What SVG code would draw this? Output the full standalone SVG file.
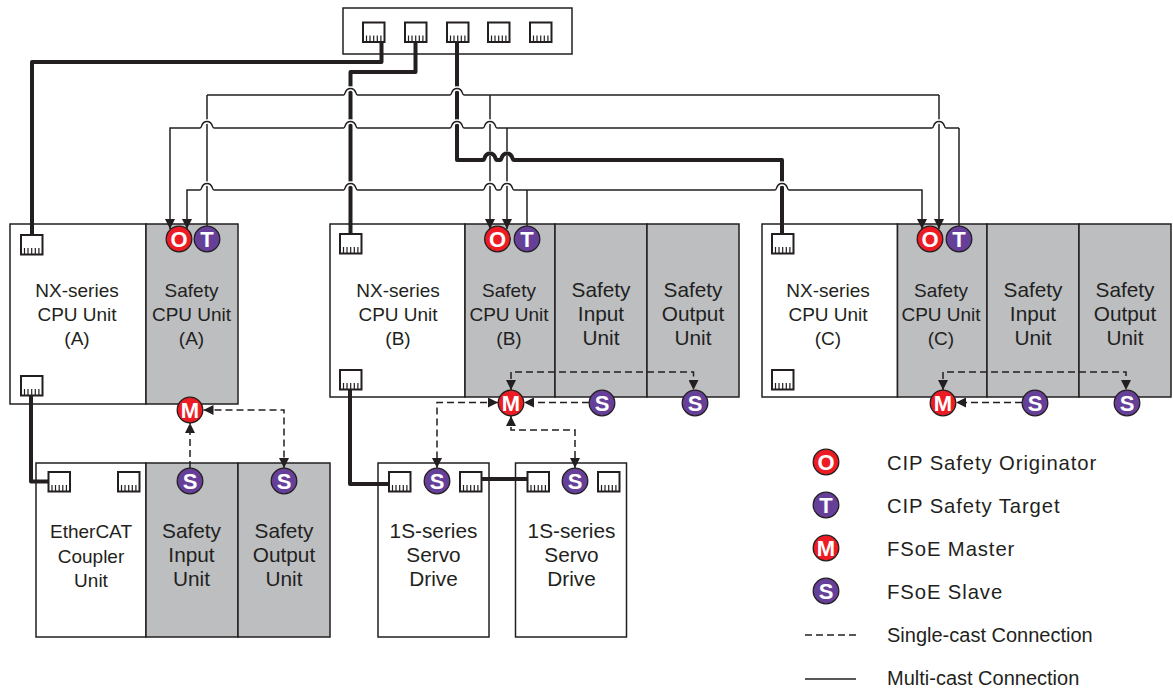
<svg xmlns="http://www.w3.org/2000/svg" xmlns:xlink="http://www.w3.org/1999/xlink" width="1173" height="690" viewBox="0 0 1173 690">
<style>
text{font-family:"Liberation Sans",Arial,sans-serif;fill:#231f20}
.t{font-size:19px;text-anchor:middle}
.w{font-size:20.800px;text-anchor:middle}
.l{font-size:20.300px;letter-spacing:.9px}
.c{font-size:20px}
.box{fill:#fff;stroke:#231f20;stroke-width:1.5}
.g{fill:#bcbec0;stroke:#231f20;stroke-width:1.5}
.port{fill:#fff;stroke:#231f20;stroke-width:2}
.teeth{fill:none;stroke:#231f20;stroke-width:1.2}
.thin{fill:none;stroke:#231f20;stroke-width:1.5}
.thick{fill:none;stroke:#231f20;stroke-width:4;stroke-linejoin:round}
.dash{fill:none;stroke:#231f20;stroke-width:1.5;stroke-dasharray:7 4}
.halo{fill:none;stroke:#fff;stroke-width:4.500}
.red{fill:#ed1c24;stroke:#231f20;stroke-width:1.3}
.pur{fill:#663f98;stroke:#231f20;stroke-width:1.3}
.b{font-size:22px;font-weight:bold;text-anchor:middle;fill:#fff}
</style>
<defs>
<marker id="a" markerUnits="userSpaceOnUse" viewBox="0 0 10 10" refX="10" refY="5" markerWidth="10" markerHeight="10" orient="auto-start-reverse"><path d="M0,0L10,5L0,10Z" fill="#231f20"/></marker>
<g id="p"><rect class="port" x="0" y="0" width="21.500" height="19.500"/><path class="teeth" d="M3.500,13V19M7,13V19M10.700,13V19M14.300,13V19M17.900,13V19"/></g>
<path id="hop" d="M-7,0c2.500,0 .5,-6.500 7,-6.500s4.500,6.500 7,6.500"/>
</defs>

<g id="switch">
<rect class="box" x="343" y="8" width="229" height="46"/>
<use href="#p" x="363" y="22.500"/><use href="#p" x="405" y="22.500"/><use href="#p" x="447" y="22.500"/><use href="#p" x="488" y="22.500"/><use href="#p" x="530" y="22.500"/>
</g>

<g id="unit-a">
<rect class="box" x="10" y="224" width="136" height="180"/>
<rect class="g" x="146" y="224" width="92" height="180"/>
<use href="#p" x="21" y="235"/><use href="#p" x="21" y="376"/>
<text class="t" x="77" y="296.500">NX-series</text><text class="t" x="77" y="320.500">CPU Unit</text><text class="t" x="77" y="345">(A)</text>
<text class="t" x="191.500" y="296.500">Safety</text><text class="t" x="191.500" y="320.500">CPU Unit</text><text class="t" x="191.500" y="345">(A)</text>
</g>

<g id="unit-b">
<rect class="box" x="330" y="224" width="135" height="173"/>
<rect class="g" x="465" y="224" width="90" height="173"/>
<rect class="g" x="555" y="224" width="92" height="173"/>
<rect class="g" x="647" y="224" width="92" height="173"/>
<use href="#p" x="340" y="234"/><use href="#p" x="340" y="370"/>
<text class="t" x="398" y="296.500">NX-series</text><text class="t" x="398" y="320.500">CPU Unit</text><text class="t" x="398" y="345">(B)</text>
<text class="t" x="509" y="296.500">Safety</text><text class="t" x="509" y="320.500">CPU Unit</text><text class="t" x="509" y="345">(B)</text>
<text class="w" x="601" y="297">Safety</text><text class="w" x="601" y="321">Input</text><text class="w" x="601" y="345">Unit</text>
<text class="w" x="693" y="297">Safety</text><text class="w" x="693" y="321">Output</text><text class="w" x="693" y="345">Unit</text>
</g>

<g id="unit-c">
<rect class="box" x="762" y="224" width="135.500" height="173"/>
<rect class="g" x="897.500" y="224" width="89.500" height="173"/>
<rect class="g" x="987" y="224" width="92" height="173"/>
<rect class="g" x="1079" y="224" width="92" height="173"/>
<use href="#p" x="772" y="234"/><use href="#p" x="772" y="370"/>
<text class="t" x="828" y="296.500">NX-series</text><text class="t" x="828" y="320.500">CPU Unit</text><text class="t" x="828" y="345">(C)</text>
<text class="t" x="941" y="296.500">Safety</text><text class="t" x="941" y="320.500">CPU Unit</text><text class="t" x="941" y="345">(C)</text>
<text class="w" x="1033" y="297">Safety</text><text class="w" x="1033" y="321">Input</text><text class="w" x="1033" y="345">Unit</text>
<text class="w" x="1125" y="297">Safety</text><text class="w" x="1125" y="321">Output</text><text class="w" x="1125" y="345">Unit</text>
</g>

<g id="coupler">
<rect class="box" x="36" y="463" width="110" height="174"/>
<rect class="g" x="146" y="463" width="92" height="174"/>
<rect class="g" x="238" y="463" width="92" height="174"/>
<use href="#p" x="48.500" y="472"/><use href="#p" x="118" y="472"/>
<text class="t" x="91" y="538">EtherCAT</text><text class="t" x="91" y="563">Coupler</text><text class="t" x="91" y="587">Unit</text>
<text class="w" x="191.500" y="538">Safety</text><text class="w" x="191.500" y="562">Input</text><text class="w" x="191.500" y="586">Unit</text>
<text class="w" x="284" y="538">Safety</text><text class="w" x="284" y="562">Output</text><text class="w" x="284" y="586">Unit</text>
</g>

<g id="drive-1">
<rect class="box" x="378" y="463" width="111" height="174"/>
<use href="#p" x="389" y="472"/><use href="#p" x="460" y="472"/>
<text class="w" x="433.500" y="538">1S-series</text><text class="w" x="433.500" y="562">Servo</text><text class="w" x="433.500" y="586">Drive</text>
</g>
<g id="drive-2">
<rect class="box" x="515.500" y="463" width="111" height="174"/>
<use href="#p" x="527.500" y="472"/><use href="#p" x="598" y="472"/>
<text class="w" x="571.500" y="538">1S-series</text><text class="w" x="571.500" y="562">Servo</text><text class="w" x="571.500" y="586">Drive</text>
</g>

<g id="connectors">
<path class="thin" d="M207,95V226"/>
<path class="thin" d="M959,128V226"/>
<path class="thin" d="M527,190V226"/>
<path class="thin" d="M490,95V229" marker-end="url(#a)"/>
<path class="thin" d="M507,128V229" marker-end="url(#a)"/>
<path class="thin" d="M939,95V229" marker-end="url(#a)"/>
<use href="#hop" class="halo" x="490" y="160"/><use href="#hop" class="halo" x="507" y="160"/>
<path class="thick" d="M381.500,42V62H32V235"/>
<path class="thick" d="M415.500,42V72H350.500V234"/>
<path class="thick" d="M457,42V160H483c2.500,0 .5,-6.500 7,-6.500s4.500,6.500 7,6.500h3c2.500,0 .5,-6.500 7,-6.500s4.500,6.500 7,6.500H782V234"/>
<path class="thick" d="M31,395V481.500H48.500"/>
<path class="thick" d="M350,390V484H389"/>
<path class="thick" d="M481.500,479H527.500"/>
<use href="#hop" class="halo" x="207" y="128"/><use href="#hop" class="halo" x="207" y="190"/>
<use href="#hop" class="halo" x="350.500" y="95"/><use href="#hop" class="halo" x="350.500" y="128"/><use href="#hop" class="halo" x="350.500" y="190"/>
<use href="#hop" class="halo" x="457" y="95"/><use href="#hop" class="halo" x="457" y="128"/>
<use href="#hop" class="halo" x="490" y="128"/><use href="#hop" class="halo" x="490" y="190"/><use href="#hop" class="halo" x="507" y="190"/>
<use href="#hop" class="halo" x="782" y="190"/><use href="#hop" class="halo" x="939" y="128"/>
<path class="thin" d="M207,95H343.500c2.500,0 .5,-6.500 7,-6.500s4.500,6.500 7,6.500H450c2.500,0 .5,-6.500 7,-6.500s4.500,6.500 7,6.500H939"/>
<path class="thin" d="M170,229V128H200c2.500,0 .5,-6.500 7,-6.500s4.500,6.500 7,6.500H343.500c2.500,0 .5,-6.500 7,-6.500s4.500,6.500 7,6.500H450c2.500,0 .5,-6.500 7,-6.500s4.500,6.500 7,6.500H483c2.500,0 .5,-6.500 7,-6.500s4.500,6.500 7,6.500H932c2.500,0 .5,-6.500 7,-6.500s4.500,6.500 7,6.500H959" marker-start="url(#a)"/>
<path class="thin" d="M187,229V190H200c2.500,0 .5,-6.500 7,-6.500s4.500,6.500 7,6.500H343.500c2.500,0 .5,-6.500 7,-6.500s4.500,6.500 7,6.500H483c2.500,0 .5,-6.500 7,-6.500s4.500,6.500 7,6.500h3c2.500,0 .5,-6.500 7,-6.500s4.500,6.500 7,6.500H775c2.500,0 .5,-6.500 7,-6.500s4.500,6.500 7,6.500H922V229" marker-start="url(#a)" marker-end="url(#a)"/>
<path class="dash" d="M190,468V423" marker-end="url(#a)"/>
<path class="dash" d="M203.500,410H284V468" marker-start="url(#a)" marker-end="url(#a)"/>
<path class="dash" d="M511,390V372H693.500V390" marker-start="url(#a)" marker-end="url(#a)"/>
<path class="dash" d="M498,402.500H437V468" marker-start="url(#a)" marker-end="url(#a)"/>
<path class="dash" d="M589,402.500H524" marker-end="url(#a)"/>
<path class="dash" d="M511,416V430H575V468" marker-start="url(#a)" marker-end="url(#a)"/>
<path class="dash" d="M943,390V372H1126V390" marker-start="url(#a)" marker-end="url(#a)"/>
<path class="dash" d="M1022,402.500H956" marker-end="url(#a)"/>
</g>

<g id="badge-a-o"><circle class="red" cx="179" cy="239" r="12.800"/><text class="b" x="179" y="247">O</text></g>
<g id="badge-a-t"><circle class="pur" cx="207" cy="239" r="12.800"/><text class="b" x="207" y="247">T</text></g>
<g id="badge-a-m"><circle class="red" cx="190" cy="410" r="12.800"/><text class="b" x="190" y="418">M</text></g>
<g id="badge-a-s1"><circle class="pur" cx="190" cy="481" r="12.800"/><text class="b" x="190" y="489">S</text></g>
<g id="badge-a-s2"><circle class="pur" cx="284" cy="481" r="12.800"/><text class="b" x="284" y="489">S</text></g>
<g id="badge-b-o"><circle class="red" cx="497.500" cy="239" r="12.800"/><text class="b" x="497.500" y="247">O</text></g>
<g id="badge-b-t"><circle class="pur" cx="527" cy="239" r="12.800"/><text class="b" x="527" y="247">T</text></g>
<g id="badge-b-m"><circle class="red" cx="511" cy="403" r="12.800"/><text class="b" x="511" y="411">M</text></g>
<g id="badge-b-s1"><circle class="pur" cx="602" cy="403" r="12.800"/><text class="b" x="602" y="411">S</text></g>
<g id="badge-b-s2"><circle class="pur" cx="695" cy="403" r="12.800"/><text class="b" x="695" y="411">S</text></g>
<g id="badge-d1-s"><circle class="pur" cx="437" cy="481" r="12.800"/><text class="b" x="437" y="489">S</text></g>
<g id="badge-d2-s"><circle class="pur" cx="575" cy="481" r="12.800"/><text class="b" x="575" y="489">S</text></g>
<g id="badge-c-o"><circle class="red" cx="930" cy="239" r="12.800"/><text class="b" x="930" y="247">O</text></g>
<g id="badge-c-t"><circle class="pur" cx="959" cy="239" r="12.800"/><text class="b" x="959" y="247">T</text></g>
<g id="badge-c-m"><circle class="red" cx="943" cy="403" r="12.800"/><text class="b" x="943" y="411">M</text></g>
<g id="badge-c-s1"><circle class="pur" cx="1035" cy="403" r="12.800"/><text class="b" x="1035" y="411">S</text></g>
<g id="badge-c-s2"><circle class="pur" cx="1127" cy="403" r="12.800"/><text class="b" x="1127" y="411">S</text></g>

<g id="legend">
<circle class="red" cx="826" cy="462" r="12.800"/><text class="b" x="826" y="470">O</text><text class="l" x="887" y="469.500">CIP Safety Originator</text>
<circle class="pur" cx="826" cy="505" r="12.800"/><text class="b" x="826" y="513">T</text><text class="l" x="887" y="512.500">CIP Safety Target</text>
<circle class="red" cx="826" cy="548" r="12.800"/><text class="b" x="826" y="556">M</text><text class="l" x="887" y="555.500">FSoE Master</text>
<circle class="pur" cx="826" cy="591" r="12.800"/><text class="b" x="826" y="599">S</text><text class="l" x="887" y="598.500">FSoE Slave</text>
<path d="M805,635H856" fill="none" stroke="#231f20" stroke-width="1.3" stroke-dasharray="7 4"/><text class="c" x="887" y="642">Single-cast Connection</text>
<path d="M805,679H856" fill="none" stroke="#231f20" stroke-width="1.6"/><text class="c" x="887" y="685">Multi-cast Connection</text>
</g>
</svg>
